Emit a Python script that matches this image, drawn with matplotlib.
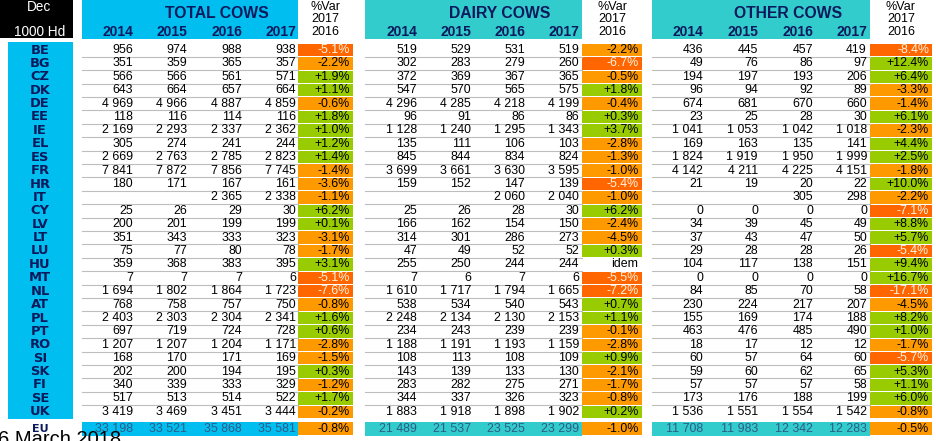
import matplotlib.pyplot as plt
from matplotlib.patches import Rectangle

plt.rcParams['font.family'] = ['Liberation Sans', 'DejaVu Sans']

countries = ['BE', 'BG', 'CZ', 'DK', 'DE', 'EE', 'IE', 'EL', 'ES', 'FR', 'HR', 'IT', 'CY', 'LV',
             'LT', 'LU', 'HU', 'MT', 'NL', 'AT', 'PL', 'PT', 'RO', 'SI', 'SK', 'FI', 'SE', 'UK']
years = ['2014', '2015', '2016', '2017']

total = [[956, 974, 988, 938], [351, 359, 365, 357], [566, 566, 561, 571], [643, 664, 657, 664],
         [4969, 4966, 4887, 4859], [118, 116, 114, 116], [2169, 2293, 2337, 2362], [305, 274, 241, 244],
         [2669, 2763, 2785, 2823], [7841, 7872, 7856, 7745], [180, 171, 167, 161], [None, None, 2365, 2338],
         [25, 26, 29, 30], [200, 201, 199, 199], [351, 343, 333, 323], [75, 77, 80, 78],
         [359, 368, 383, 395], [7, 7, 7, 6], [1694, 1802, 1864, 1723], [768, 758, 757, 750],
         [2403, 2303, 2304, 2341], [697, 719, 724, 728], [1207, 1207, 1204, 1171], [168, 170, 171, 169],
         [202, 200, 194, 195], [340, 339, 333, 329], [517, 513, 514, 522], [3419, 3469, 3451, 3444]]
total_var = [-5.1, -2.2, 1.9, 1.1, -0.6, 1.8, 1.0, 1.2, 1.4, -1.4, -3.6, -1.1, 6.2, 0.1,
             -3.1, -1.7, 3.1, -5.1, -7.6, -0.8, 1.6, 0.6, -2.8, -1.5, 0.3, -1.2, 1.7, -0.2]
total_eu = [33198, 33521, 35868, 35581]
total_eu_var = -0.8

dairy = [[519, 529, 531, 519], [302, 283, 279, 260], [372, 369, 367, 365], [547, 570, 565, 575],
         [4296, 4285, 4218, 4199], [96, 91, 86, 86], [1128, 1240, 1295, 1343], [135, 111, 106, 103],
         [845, 844, 834, 824], [3699, 3661, 3630, 3595], [159, 152, 147, 139], [None, None, 2060, 2040],
         [25, 26, 28, 30], [166, 162, 154, 150], [314, 301, 286, 273], [47, 49, 52, 52],
         [255, 250, 244, 244], [7, 6, 7, 6], [1610, 1717, 1794, 1665], [538, 534, 540, 543],
         [2248, 2134, 2130, 2153], [234, 243, 239, 239], [1188, 1191, 1193, 1159], [108, 113, 108, 109],
         [143, 139, 133, 130], [283, 282, 275, 271], [344, 337, 326, 323], [1883, 1918, 1898, 1902]]
dairy_var = [-2.2, -6.7, -0.5, 1.8, -0.4, 0.3, 3.7, -2.8, -1.3, -1.0, -5.4, -1.0, 6.2, -2.4,
             -4.5, 0.3, None, -5.5, -7.2, 0.7, 1.1, -0.1, -2.8, 0.9, -2.1, -1.7, -0.8, 0.2]
dairy_eu = [21489, 21537, 23525, 23299]
dairy_eu_var = -1.0

other = [[436, 445, 457, 419], [49, 76, 86, 97], [194, 197, 193, 206], [96, 94, 92, 89],
         [674, 681, 670, 660], [23, 25, 28, 30], [1041, 1053, 1042, 1018], [169, 163, 135, 141],
         [1824, 1919, 1950, 1999], [4142, 4211, 4225, 4151], [21, 19, 20, 22], [None, None, 305, 298],
         [0, 0, 0, 0], [34, 39, 45, 49], [37, 43, 47, 50], [29, 28, 28, 26],
         [104, 117, 138, 151], [0, 0, 0, 0], [84, 85, 70, 58], [230, 224, 217, 207],
         [155, 169, 174, 188], [463, 476, 485, 490], [18, 17, 12, 12], [60, 57, 64, 60],
         [59, 60, 62, 65], [57, 57, 57, 58], [173, 176, 188, 199], [1536, 1551, 1554, 1542]]
other_var = [-8.4, 12.4, 6.4, -3.3, -1.4, 6.1, -2.3, 4.4, 2.5, -1.8, 10.0, -2.2, -7.1, 8.8,
             5.7, -5.4, 9.4, 16.7, -17.1, -4.5, 8.2, 1.0, -1.7, -5.7, 5.3, 1.1, 6.0, -0.8]
other_eu = [11708, 11983, 12342, 12283]
other_eu_var = -0.5

CYAN = '#00BEF0'
TEAL = '#33CCCC'
ORANGE = '#FF9900'
DARK_ORANGE = '#FF6600'
GREEN = '#99CC00'
GRID = '#BDBDBD'
NAVY = '#0A1A5C'

fig = plt.figure(figsize=(9.36, 4.41), dpi=100)
ax = fig.add_axes([0, 0, 1, 1])
ax.set_xlim(0, 936)
ax.set_ylim(441, 0)
ax.axis('off')

row0 = 50.0
rh = 13.4
eu_y = 428.5
nsize = 8.9


def fmt(v):
    if v is None:
        return ''
    return f'{v:,}'.replace(',', ' ')


def var_cell(x0, x1, y, v):
    if v is None:
        ax.text(x1 - 4, y, 'idem', ha='right', va='center', fontsize=nsize)
        return
    if v < -5:
        fc, tc = DARK_ORANGE, '#FFF2E0'
    elif v < 0:
        fc, tc = ORANGE, 'black'
    else:
        fc, tc = GREEN, 'black'
    ax.add_patch(Rectangle((x0, y - rh / 2 + 0.5), x1 - x0, rh - 1, color=fc, lw=0))
    ax.text(x1 - 3, y, f'{v:+.1f}%', ha='right', va='center', fontsize=nsize, color=tc)


# top-left corner and country column
ax.add_patch(Rectangle((0, 0), 72.5, 38, color='black', lw=0))
ax.text(39, 7, 'Dec', ha='center', va='center', color='white', fontsize=9.8)
ax.text(40, 32, '1000 Hd', ha='center', va='center', color='white', fontsize=9.8)
ax.add_patch(Rectangle((8, 42), 64.5, 376.5, color=CYAN, lw=0))
for i, c in enumerate(countries):
    ax.text(40, row0 + i * rh, c, ha='center', va='center', fontsize=9.4, fontweight='bold',
            color=NAVY, family='DejaVu Sans')
ax.text(40, eu_y, 'EU', ha='center', va='center', fontsize=8, fontweight='bold', color=NAVY,
        family='DejaVu Sans')

groups = [
    ('TOTAL COWS', CYAN, 82, 298, 217, [133, 187, 242, 296], 298, 353, total, total_var, total_eu, total_eu_var),
    ('DAIRY COWS', TEAL, 365, 582, 500, [417, 471, 525, 579], 582, 642, dairy, dairy_var, dairy_eu, dairy_eu_var),
    ('OTHER COWS', TEAL, 652, 870, 788, [703, 758, 813, 867], 870, 932, other, other_var, other_eu, other_eu_var),
]

for title, col, hx0, hx1, tx, xs, vx0, vx1, vals, var, eu, eu_var in groups:
    ax.add_patch(Rectangle((hx0, 0), hx1 - hx0, 38.5, color=col, lw=0))
    ax.text(tx, 13, title, ha='center', va='center', fontsize=11.3, fontweight='bold', color=NAVY)
    for x, yr in zip(xs, years):
        ax.text(x, 32, yr, ha='right', va='center', fontsize=10, fontweight='bold', color=NAVY)
    vc = (vx0 + vx1) / 2
    ax.text(vc, 7, '%Var', ha='center', va='center', fontsize=9)
    ax.text(vc, 19.5, '2017', ha='center', va='center', fontsize=9)
    ax.text(vc, 32, '2016', ha='center', va='center', fontsize=9)
    for i in range(len(countries)):
        y = row0 + i * rh
        if i < len(countries) - 1:
            ax.plot([hx0, hx1], [y + rh / 2, y + rh / 2], color=GRID, lw=0.8)
        for x, v in zip(xs, vals[i]):
            ax.text(x, y, fmt(v), ha='right', va='center', fontsize=nsize)
        var_cell(vx0, vx1, y, var[i])
    # EU row
    ax.add_patch(Rectangle((hx0, eu_y - 7), hx1 - hx0, 14.5, color=col, lw=0))
    for x, v in zip(xs, eu):
        ax.text(x, eu_y, fmt(v), ha='right', va='center', fontsize=nsize, color='#2E5C86')
    var_cell(vx0, vx1, eu_y, eu_var)

ax.text(-2, 430, '6 March 2018', ha='left', va='top', fontsize=14.5)

fig.savefig('out.png', dpi=100)
